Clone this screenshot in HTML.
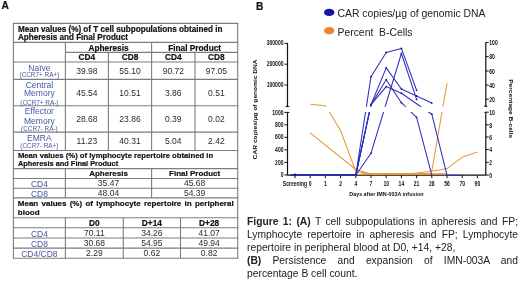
<!DOCTYPE html>
<html><head><meta charset="utf-8"><style>
html,body{margin:0;padding:0;background:#fff;}
body{width:520px;height:284px;position:relative;overflow:hidden;font-family:"Liberation Sans", sans-serif;filter:blur(0.45px);}
.t{position:absolute;white-space:nowrap;}
.l{position:absolute;}
.cap{position:absolute;font-size:10.3px;line-height:13.1px;color:#222;text-align:justify;}
.ch{position:absolute;left:0;top:0;}
.tk{font-family:"Liberation Sans", sans-serif;font-weight:bold;font-size:6.3px;fill:#111;}
.at{font-family:"Liberation Sans", sans-serif;font-weight:bold;font-size:6.6px;fill:#111;}
.lg{font-family:"Liberation Sans", sans-serif;font-size:10.4px;fill:#222;}
</style></head><body>
<div class="t" style="top:0.77px;font-size:10.2px;line-height:10.2px;color:#111;font-weight:bold;-webkit-text-stroke:0.2px currentColor;left:1.50px;">A</div><svg class="ch" width="520" height="284" viewBox="0 0 520 284"><g stroke="#7d7d7d" stroke-width="1.1"><line x1="12.85" y1="23.4" x2="238.25" y2="23.4"/><line x1="12.85" y1="42.4" x2="238.25" y2="42.4"/><line x1="12.85" y1="62.0" x2="238.25" y2="62.0"/><line x1="12.85" y1="79.4" x2="238.25" y2="79.4"/><line x1="12.85" y1="105.8" x2="238.25" y2="105.8"/><line x1="12.85" y1="132.1" x2="238.25" y2="132.1"/><line x1="12.85" y1="150.5" x2="238.25" y2="150.5"/><line x1="12.85" y1="168.6" x2="238.25" y2="168.6"/><line x1="12.85" y1="178.5" x2="238.25" y2="178.5"/><line x1="12.85" y1="188.3" x2="238.25" y2="188.3"/><line x1="12.85" y1="197.9" x2="238.25" y2="197.9"/><line x1="12.85" y1="217.8" x2="238.25" y2="217.8"/><line x1="12.85" y1="227.7" x2="238.25" y2="227.7"/><line x1="12.85" y1="238.0" x2="238.25" y2="238.0"/><line x1="12.85" y1="248.1" x2="238.25" y2="248.1"/><line x1="12.85" y1="258.3" x2="238.25" y2="258.3"/><line x1="65.4" y1="52.4" x2="237.7" y2="52.4"/><line x1="13.4" y1="23.4" x2="13.4" y2="258.3"/><line x1="237.7" y1="23.4" x2="237.7" y2="258.3"/><line x1="65.4" y1="42.4" x2="65.4" y2="150.5"/><line x1="65.4" y1="168.6" x2="65.4" y2="197.9"/><line x1="65.4" y1="217.8" x2="65.4" y2="258.3"/><line x1="108.4" y1="52.4" x2="108.4" y2="150.5"/><line x1="151.6" y1="42.4" x2="151.6" y2="150.5"/><line x1="151.6" y1="168.6" x2="151.6" y2="197.9"/><line x1="195.0" y1="52.4" x2="195.0" y2="150.5"/><line x1="123.3" y1="217.8" x2="123.3" y2="258.3"/><line x1="180.5" y1="217.8" x2="180.5" y2="258.3"/></g></svg><div class="t" style="top:25.70px;font-size:8.15px;line-height:8.15px;color:#111;font-weight:bold;-webkit-text-stroke:0.2px currentColor;left:17.90px;">Mean values (%) of T cell subpopulations obtained in</div><div class="t" style="top:34.30px;font-size:8.15px;line-height:8.15px;color:#111;font-weight:bold;-webkit-text-stroke:0.2px currentColor;left:17.90px;">Apheresis and Final Product</div><div class="t" style="top:43.97px;font-size:8.3px;line-height:8.3px;color:#111;font-weight:bold;-webkit-text-stroke:0.2px currentColor;left:68.50px;width:80.00px;text-align:center;">Apheresis</div><div class="t" style="top:43.97px;font-size:8.3px;line-height:8.3px;color:#111;font-weight:bold;-webkit-text-stroke:0.2px currentColor;left:154.65px;width:80.00px;text-align:center;">Final Product</div><div class="t" style="top:53.17px;font-size:8.3px;line-height:8.3px;color:#111;font-weight:bold;-webkit-text-stroke:0.2px currentColor;left:66.90px;width:40.00px;text-align:center;">CD4</div><div class="t" style="top:53.17px;font-size:8.3px;line-height:8.3px;color:#111;font-weight:bold;-webkit-text-stroke:0.2px currentColor;left:110.00px;width:40.00px;text-align:center;">CD8</div><div class="t" style="top:53.17px;font-size:8.3px;line-height:8.3px;color:#111;font-weight:bold;-webkit-text-stroke:0.2px currentColor;left:153.30px;width:40.00px;text-align:center;">CD4</div><div class="t" style="top:53.17px;font-size:8.3px;line-height:8.3px;color:#111;font-weight:bold;-webkit-text-stroke:0.2px currentColor;left:196.35px;width:40.00px;text-align:center;">CD8</div><div class="t" style="top:63.60px;font-size:8.5px;line-height:8.5px;color:#44569f;left:13.40px;width:52.00px;text-align:center;">Naïve</div><div class="t" style="top:72.18px;font-size:6.4px;line-height:6.4px;color:#44569f;left:13.40px;width:52.00px;text-align:center;">(CCR7+ RA+)</div><div class="t" style="top:67.00px;font-size:8.5px;line-height:8.5px;color:#2a2a2a;left:64.90px;width:44.00px;text-align:center;">39.98</div><div class="t" style="top:67.00px;font-size:8.5px;line-height:8.5px;color:#2a2a2a;left:108.00px;width:44.00px;text-align:center;">55.10</div><div class="t" style="top:67.00px;font-size:8.5px;line-height:8.5px;color:#2a2a2a;left:151.30px;width:44.00px;text-align:center;">90.72</div><div class="t" style="top:67.00px;font-size:8.5px;line-height:8.5px;color:#2a2a2a;left:194.35px;width:44.00px;text-align:center;">97.05</div><div class="t" style="top:80.80px;font-size:8.5px;line-height:8.5px;color:#44569f;left:13.40px;width:52.00px;text-align:center;">Central</div><div class="t" style="top:89.40px;font-size:8.5px;line-height:8.5px;color:#44569f;left:13.40px;width:52.00px;text-align:center;">Memory</div><div class="t" style="top:99.78px;font-size:6.4px;line-height:6.4px;color:#44569f;left:13.40px;width:52.00px;text-align:center;">(CCR7+ RA-)</div><div class="t" style="top:88.60px;font-size:8.5px;line-height:8.5px;color:#2a2a2a;left:64.90px;width:44.00px;text-align:center;">45.54</div><div class="t" style="top:88.60px;font-size:8.5px;line-height:8.5px;color:#2a2a2a;left:108.00px;width:44.00px;text-align:center;">10.51</div><div class="t" style="top:88.60px;font-size:8.5px;line-height:8.5px;color:#2a2a2a;left:151.30px;width:44.00px;text-align:center;">3.86</div><div class="t" style="top:88.60px;font-size:8.5px;line-height:8.5px;color:#2a2a2a;left:194.35px;width:44.00px;text-align:center;">0.51</div><div class="t" style="top:107.30px;font-size:8.5px;line-height:8.5px;color:#44569f;left:13.40px;width:52.00px;text-align:center;">Effector</div><div class="t" style="top:116.60px;font-size:8.5px;line-height:8.5px;color:#44569f;left:13.40px;width:52.00px;text-align:center;">Memory</div><div class="t" style="top:125.58px;font-size:6.4px;line-height:6.4px;color:#44569f;left:13.40px;width:52.00px;text-align:center;">(CCR7- RA-)</div><div class="t" style="top:115.00px;font-size:8.5px;line-height:8.5px;color:#2a2a2a;left:64.90px;width:44.00px;text-align:center;">28.68</div><div class="t" style="top:115.00px;font-size:8.5px;line-height:8.5px;color:#2a2a2a;left:108.00px;width:44.00px;text-align:center;">23.86</div><div class="t" style="top:115.00px;font-size:8.5px;line-height:8.5px;color:#2a2a2a;left:151.30px;width:44.00px;text-align:center;">0.39</div><div class="t" style="top:115.00px;font-size:8.5px;line-height:8.5px;color:#2a2a2a;left:194.35px;width:44.00px;text-align:center;">0.02</div><div class="t" style="top:134.10px;font-size:8.5px;line-height:8.5px;color:#44569f;left:13.40px;width:52.00px;text-align:center;">EMRA</div><div class="t" style="top:143.18px;font-size:6.4px;line-height:6.4px;color:#44569f;left:13.40px;width:52.00px;text-align:center;">(CCR7- RA+)</div><div class="t" style="top:136.60px;font-size:8.5px;line-height:8.5px;color:#2a2a2a;left:64.90px;width:44.00px;text-align:center;">11.23</div><div class="t" style="top:136.60px;font-size:8.5px;line-height:8.5px;color:#2a2a2a;left:108.00px;width:44.00px;text-align:center;">40.31</div><div class="t" style="top:136.60px;font-size:8.5px;line-height:8.5px;color:#2a2a2a;left:151.30px;width:44.00px;text-align:center;">5.04</div><div class="t" style="top:136.60px;font-size:8.5px;line-height:8.5px;color:#2a2a2a;left:194.35px;width:44.00px;text-align:center;">2.42</div><div class="t" style="top:151.78px;font-size:7.7px;line-height:7.7px;color:#111;font-weight:bold;-webkit-text-stroke:0.2px currentColor;left:17.90px;">Mean values (%) of lymphocyte repertoire obtained in</div><div class="t" style="top:160.44px;font-size:7.4px;line-height:7.4px;color:#111;font-weight:bold;-webkit-text-stroke:0.2px currentColor;left:17.90px;">Apheresis and Final Product</div><div class="t" style="top:169.73px;font-size:8px;line-height:8px;color:#111;font-weight:bold;-webkit-text-stroke:0.2px currentColor;left:68.50px;width:80.00px;text-align:center;">Apheresis</div><div class="t" style="top:169.73px;font-size:8px;line-height:8px;color:#111;font-weight:bold;-webkit-text-stroke:0.2px currentColor;left:154.65px;width:80.00px;text-align:center;">Final Product</div><div class="t" style="top:179.80px;font-size:8.5px;line-height:8.5px;color:#44569f;left:13.40px;width:52.00px;text-align:center;">CD4</div><div class="t" style="top:179.00px;font-size:8.5px;line-height:8.5px;color:#2a2a2a;left:68.50px;width:80.00px;text-align:center;">35.47</div><div class="t" style="top:179.00px;font-size:8.5px;line-height:8.5px;color:#2a2a2a;left:154.65px;width:80.00px;text-align:center;">45.68</div><div class="t" style="top:189.70px;font-size:8.5px;line-height:8.5px;color:#44569f;left:13.40px;width:52.00px;text-align:center;">CD8</div><div class="t" style="top:188.90px;font-size:8.5px;line-height:8.5px;color:#2a2a2a;left:68.50px;width:80.00px;text-align:center;">48.04</div><div class="t" style="top:188.90px;font-size:8.5px;line-height:8.5px;color:#2a2a2a;left:154.65px;width:80.00px;text-align:center;">54.39</div><div class="t" style="top:199.73px;font-size:8px;line-height:8px;color:#111;font-weight:bold;-webkit-text-stroke:0.2px currentColor;left:17.80px;word-spacing:1.05px;">Mean values (%) of lymphocyte repertoire in peripheral</div><div class="t" style="top:209.03px;font-size:8px;line-height:8px;color:#111;font-weight:bold;-webkit-text-stroke:0.2px currentColor;left:17.80px;">blood</div><div class="t" style="top:219.37px;font-size:8.3px;line-height:8.3px;color:#111;font-weight:bold;-webkit-text-stroke:0.2px currentColor;left:64.35px;width:60.00px;text-align:center;">D0</div><div class="t" style="top:219.37px;font-size:8.3px;line-height:8.3px;color:#111;font-weight:bold;-webkit-text-stroke:0.2px currentColor;left:121.90px;width:60.00px;text-align:center;">D+14</div><div class="t" style="top:219.37px;font-size:8.3px;line-height:8.3px;color:#111;font-weight:bold;-webkit-text-stroke:0.2px currentColor;left:179.10px;width:60.00px;text-align:center;">D+28</div><div class="t" style="top:229.60px;font-size:8.5px;line-height:8.5px;color:#44569f;left:13.40px;width:52.00px;text-align:center;">CD4</div><div class="t" style="top:228.90px;font-size:8.5px;line-height:8.5px;color:#2a2a2a;left:64.35px;width:60.00px;text-align:center;">70.11</div><div class="t" style="top:228.90px;font-size:8.5px;line-height:8.5px;color:#2a2a2a;left:121.90px;width:60.00px;text-align:center;">34.26</div><div class="t" style="top:228.90px;font-size:8.5px;line-height:8.5px;color:#2a2a2a;left:179.10px;width:60.00px;text-align:center;">41.07</div><div class="t" style="top:239.70px;font-size:8.5px;line-height:8.5px;color:#44569f;left:13.40px;width:52.00px;text-align:center;">CD8</div><div class="t" style="top:239.00px;font-size:8.5px;line-height:8.5px;color:#2a2a2a;left:64.35px;width:60.00px;text-align:center;">30.68</div><div class="t" style="top:239.00px;font-size:8.5px;line-height:8.5px;color:#2a2a2a;left:121.90px;width:60.00px;text-align:center;">54.95</div><div class="t" style="top:239.00px;font-size:8.5px;line-height:8.5px;color:#2a2a2a;left:179.10px;width:60.00px;text-align:center;">49.94</div><div class="t" style="top:249.70px;font-size:8.5px;line-height:8.5px;color:#44569f;left:13.40px;width:52.00px;text-align:center;">CD4/CD8</div><div class="t" style="top:249.00px;font-size:8.5px;line-height:8.5px;color:#2a2a2a;left:64.35px;width:60.00px;text-align:center;">2.29</div><div class="t" style="top:249.00px;font-size:8.5px;line-height:8.5px;color:#2a2a2a;left:121.90px;width:60.00px;text-align:center;">0.62</div><div class="t" style="top:249.00px;font-size:8.5px;line-height:8.5px;color:#2a2a2a;left:179.10px;width:60.00px;text-align:center;">0.82</div><div class="cap" style="left:247px;top:214.9px;width:271px;"><b>Figure 1:</b> <b>(A)</b> T cell subpopulations in apheresis and FP; Lymphocyte repertoire in apheresis and FP; Lymphocyte repertoire in peripheral blood at D0, +14, +28,<br><b>(B)</b> Persistence and expansion of IMN-003A and percentage B cell count.</div><div class="t" style="top:1.57px;font-size:10.2px;line-height:10.2px;color:#111;font-weight:bold;-webkit-text-stroke:0.2px currentColor;left:256.00px;">B</div><svg class="ch" width="520" height="284" viewBox="0 0 520 284"><line x1="287.5" y1="43" x2="287.5" y2="106.5" stroke="#111" stroke-width="1.2"/><line x1="287.5" y1="112.3" x2="287.5" y2="175.2" stroke="#111" stroke-width="1.2"/><line x1="285.7" y1="106.5" x2="289.3" y2="106.5" stroke="#111" stroke-width="1.2"/><line x1="287.5" y1="112.4" x2="289.3" y2="112.4" stroke="#111" stroke-width="1.1"/><line x1="485.8" y1="42.3" x2="485.8" y2="106.3" stroke="#111" stroke-width="1.2"/><line x1="485.8" y1="112.2" x2="485.8" y2="175.2" stroke="#111" stroke-width="1.2"/><line x1="484.3" y1="106.3" x2="487.3" y2="106.3" stroke="#111" stroke-width="1.2"/><line x1="484.2" y1="112.2" x2="485.8" y2="112.2" stroke="#111" stroke-width="1.1"/><line x1="287.5" y1="175.2" x2="485.8" y2="175.2" stroke="#111" stroke-width="1.2"/><line x1="284.5" y1="43.3" x2="287.5" y2="43.3" stroke="#111" stroke-width="1"/><text x="283.5" y="45.5" text-anchor="end" class="tk" transform="translate(283.5 0) scale(0.8 1) translate(-283.5 0)">300000</text><line x1="284.5" y1="64.2" x2="287.5" y2="64.2" stroke="#111" stroke-width="1"/><text x="283.5" y="66.4" text-anchor="end" class="tk" transform="translate(283.5 0) scale(0.8 1) translate(-283.5 0)">200000</text><line x1="284.5" y1="85.0" x2="287.5" y2="85.0" stroke="#111" stroke-width="1"/><text x="283.5" y="87.2" text-anchor="end" class="tk" transform="translate(283.5 0) scale(0.8 1) translate(-283.5 0)">100000</text><line x1="284.5" y1="112.4" x2="287.5" y2="112.4" stroke="#111" stroke-width="1"/><text x="283.5" y="114.60000000000001" text-anchor="end" class="tk" transform="translate(283.5 0) scale(0.8 1) translate(-283.5 0)">1000</text><line x1="284.5" y1="124.8" x2="287.5" y2="124.8" stroke="#111" stroke-width="1"/><text x="283.5" y="127.0" text-anchor="end" class="tk" transform="translate(283.5 0) scale(0.8 1) translate(-283.5 0)">800</text><line x1="284.5" y1="137.3" x2="287.5" y2="137.3" stroke="#111" stroke-width="1"/><text x="283.5" y="139.5" text-anchor="end" class="tk" transform="translate(283.5 0) scale(0.8 1) translate(-283.5 0)">600</text><line x1="284.5" y1="149.8" x2="287.5" y2="149.8" stroke="#111" stroke-width="1"/><text x="283.5" y="152.0" text-anchor="end" class="tk" transform="translate(283.5 0) scale(0.8 1) translate(-283.5 0)">400</text><line x1="284.5" y1="162.4" x2="287.5" y2="162.4" stroke="#111" stroke-width="1"/><text x="283.5" y="164.6" text-anchor="end" class="tk" transform="translate(283.5 0) scale(0.8 1) translate(-283.5 0)">200</text><line x1="284.5" y1="175.0" x2="287.5" y2="175.0" stroke="#111" stroke-width="1"/><text x="283.5" y="177.2" text-anchor="end" class="tk" transform="translate(283.5 0) scale(0.8 1) translate(-283.5 0)">0</text><line x1="485.8" y1="42.4" x2="488.8" y2="42.4" stroke="#111" stroke-width="1"/><text x="489.3" y="45.199999999999996" class="tk" transform="translate(489.3 0) scale(0.8 1) translate(-489.3 0)">100</text><line x1="485.8" y1="56.7" x2="488.8" y2="56.7" stroke="#111" stroke-width="1"/><text x="489.3" y="59.5" class="tk" transform="translate(489.3 0) scale(0.8 1) translate(-489.3 0)">80</text><line x1="485.8" y1="71.0" x2="488.8" y2="71.0" stroke="#111" stroke-width="1"/><text x="489.3" y="73.8" class="tk" transform="translate(489.3 0) scale(0.8 1) translate(-489.3 0)">60</text><line x1="485.8" y1="85.1" x2="488.8" y2="85.1" stroke="#111" stroke-width="1"/><text x="489.3" y="87.89999999999999" class="tk" transform="translate(489.3 0) scale(0.8 1) translate(-489.3 0)">40</text><line x1="485.8" y1="99.2" x2="488.8" y2="99.2" stroke="#111" stroke-width="1"/><text x="489.3" y="102.0" class="tk" transform="translate(489.3 0) scale(0.8 1) translate(-489.3 0)">20</text><line x1="485.8" y1="112.2" x2="488.8" y2="112.2" stroke="#111" stroke-width="1"/><text x="489.3" y="115.0" class="tk" transform="translate(489.3 0) scale(0.8 1) translate(-489.3 0)">10</text><line x1="485.8" y1="124.8" x2="488.8" y2="124.8" stroke="#111" stroke-width="1"/><text x="489.3" y="127.6" class="tk" transform="translate(489.3 0) scale(0.8 1) translate(-489.3 0)">8</text><line x1="485.8" y1="137.0" x2="488.8" y2="137.0" stroke="#111" stroke-width="1"/><text x="489.3" y="139.8" class="tk" transform="translate(489.3 0) scale(0.8 1) translate(-489.3 0)">6</text><line x1="485.8" y1="149.5" x2="488.8" y2="149.5" stroke="#111" stroke-width="1"/><text x="489.3" y="152.3" class="tk" transform="translate(489.3 0) scale(0.8 1) translate(-489.3 0)">4</text><line x1="485.8" y1="162.3" x2="488.8" y2="162.3" stroke="#111" stroke-width="1"/><text x="489.3" y="165.10000000000002" class="tk" transform="translate(489.3 0) scale(0.8 1) translate(-489.3 0)">2</text><line x1="485.8" y1="175.0" x2="488.8" y2="175.0" stroke="#111" stroke-width="1"/><text x="489.3" y="177.8" class="tk" transform="translate(489.3 0) scale(0.8 1) translate(-489.3 0)">0</text><line x1="295.0" y1="175.2" x2="295.0" y2="178.2" stroke="#111" stroke-width="1"/><text x="295.0" y="186.2" text-anchor="middle" class="tk" transform="translate(295.0 0) scale(0.8 1) translate(-295.0 0)">Screening</text><line x1="310.2" y1="175.2" x2="310.2" y2="178.2" stroke="#111" stroke-width="1"/><text x="310.2" y="186.2" text-anchor="middle" class="tk" transform="translate(310.2 0) scale(0.8 1) translate(-310.2 0)">0</text><line x1="325.4" y1="175.2" x2="325.4" y2="178.2" stroke="#111" stroke-width="1"/><text x="325.4" y="186.2" text-anchor="middle" class="tk" transform="translate(325.4 0) scale(0.8 1) translate(-325.4 0)">1</text><line x1="340.6" y1="175.2" x2="340.6" y2="178.2" stroke="#111" stroke-width="1"/><text x="340.6" y="186.2" text-anchor="middle" class="tk" transform="translate(340.6 0) scale(0.8 1) translate(-340.6 0)">2</text><line x1="355.8" y1="175.2" x2="355.8" y2="178.2" stroke="#111" stroke-width="1"/><text x="355.8" y="186.2" text-anchor="middle" class="tk" transform="translate(355.8 0) scale(0.8 1) translate(-355.8 0)">4</text><line x1="371.0" y1="175.2" x2="371.0" y2="178.2" stroke="#111" stroke-width="1"/><text x="371.0" y="186.2" text-anchor="middle" class="tk" transform="translate(371.0 0) scale(0.8 1) translate(-371.0 0)">7</text><line x1="386.2" y1="175.2" x2="386.2" y2="178.2" stroke="#111" stroke-width="1"/><text x="386.2" y="186.2" text-anchor="middle" class="tk" transform="translate(386.2 0) scale(0.8 1) translate(-386.2 0)">10</text><line x1="401.4" y1="175.2" x2="401.4" y2="178.2" stroke="#111" stroke-width="1"/><text x="401.4" y="186.2" text-anchor="middle" class="tk" transform="translate(401.4 0) scale(0.8 1) translate(-401.4 0)">14</text><line x1="416.6" y1="175.2" x2="416.6" y2="178.2" stroke="#111" stroke-width="1"/><text x="416.6" y="186.2" text-anchor="middle" class="tk" transform="translate(416.6 0) scale(0.8 1) translate(-416.6 0)">21</text><line x1="431.8" y1="175.2" x2="431.8" y2="178.2" stroke="#111" stroke-width="1"/><text x="431.8" y="186.2" text-anchor="middle" class="tk" transform="translate(431.8 0) scale(0.8 1) translate(-431.8 0)">28</text><line x1="447.0" y1="175.2" x2="447.0" y2="178.2" stroke="#111" stroke-width="1"/><text x="447.0" y="186.2" text-anchor="middle" class="tk" transform="translate(447.0 0) scale(0.8 1) translate(-447.0 0)">56</text><line x1="462.2" y1="175.2" x2="462.2" y2="178.2" stroke="#111" stroke-width="1"/><text x="462.2" y="186.2" text-anchor="middle" class="tk" transform="translate(462.2 0) scale(0.8 1) translate(-462.2 0)">70</text><line x1="477.4" y1="175.2" x2="477.4" y2="178.2" stroke="#111" stroke-width="1"/><text x="477.4" y="186.2" text-anchor="middle" class="tk" transform="translate(477.4 0) scale(0.8 1) translate(-477.4 0)">90</text><text x="386.4" y="195.9" text-anchor="middle" class="tk" style="font-size:6.2px" transform="translate(386.4 0) scale(0.87 1) translate(-386.4 0)">Days after IMN-003A infusion</text><text x="0" y="0" text-anchor="middle" class="at" transform="translate(256.7 109.3) rotate(-90) scale(1 0.8)">CAR copies/µg of genomic DNA</text><text x="0" y="0" text-anchor="middle" class="at" transform="translate(509.0 108.7) rotate(90) scale(1 0.8)">Percentage B-cells</text><polyline points="310.2,104.3 325.4,105.8 340.6,130.5 355.8,171.5 371.0,173.9 416.6,173.9 431.8,174.0" fill="none" stroke="#e5993f" stroke-width="1.05" stroke-linejoin="round"/><polyline points="310.2,132.8 355.8,169.5 371.0,173.9 431.8,174.0" fill="none" stroke="#e5993f" stroke-width="1.05" stroke-linejoin="round"/><polyline points="355.8,174.4 371.0,173.9 401.4,173.9 416.6,173.0 431.8,171.2 447.0,168.6 462.2,157.3 477.4,152.1" fill="none" stroke="#e5993f" stroke-width="1.05" stroke-linejoin="round"/><polyline points="431.8,171.2 447.0,83.2" fill="none" stroke="#e5993f" stroke-width="1.05" stroke-linejoin="round"/><polyline points="361.8,173.9 447.0,173.9" fill="none" stroke="#ee9535" stroke-width="1.3" stroke-linejoin="round"/><polyline points="290.5,174.9 355.8,174.9" fill="none" stroke="#2a2ab8" stroke-width="1.6" stroke-linejoin="round"/><circle cx="295.0" cy="174.89999999999998" r="1.3" fill="#1c1c90"/><polyline points="355.8,175.2 371.0,76.7 386.2,52.5 401.4,48.4 416.6,90.3" fill="none" stroke="#2e2ebf" stroke-width="1.05" stroke-linejoin="round"/><circle cx="371.0" cy="76.7" r="0.9" fill="#1c1c90"/><circle cx="386.2" cy="52.5" r="0.9" fill="#1c1c90"/><circle cx="401.4" cy="48.4" r="0.9" fill="#1c1c90"/><circle cx="416.6" cy="90.3" r="0.9" fill="#1c1c90"/><polyline points="355.8,175.2 371.0,104.7 386.2,67.9 401.4,89.0 416.6,96.0 431.8,103.1" fill="none" stroke="#2e2ebf" stroke-width="1.05" stroke-linejoin="round"/><circle cx="371.0" cy="104.7" r="0.9" fill="#1c1c90"/><circle cx="386.2" cy="67.9" r="0.9" fill="#1c1c90"/><circle cx="401.4" cy="89.0" r="0.9" fill="#1c1c90"/><circle cx="416.6" cy="96.0" r="0.9" fill="#1c1c90"/><circle cx="431.8" cy="103.1" r="0.9" fill="#1c1c90"/><polyline points="355.8,175.2 371.0,104.7 386.2,79.7 401.4,102.7 416.6,117.3 431.8,175.2" fill="none" stroke="#2e2ebf" stroke-width="1.05" stroke-linejoin="round"/><circle cx="371.0" cy="104.7" r="0.9" fill="#1c1c90"/><circle cx="386.2" cy="79.7" r="0.9" fill="#1c1c90"/><circle cx="401.4" cy="102.7" r="0.9" fill="#1c1c90"/><circle cx="416.6" cy="117.3" r="0.9" fill="#1c1c90"/><polyline points="355.8,175.2 371.0,104.7 386.2,86.6 401.4,93.2 431.8,114.2 447.0,175.2 462.2,175.2" fill="none" stroke="#2e2ebf" stroke-width="1.05" stroke-linejoin="round"/><circle cx="371.0" cy="104.7" r="0.9" fill="#1c1c90"/><circle cx="386.2" cy="86.6" r="0.9" fill="#1c1c90"/><circle cx="401.4" cy="93.2" r="0.9" fill="#1c1c90"/><circle cx="431.8" cy="114.2" r="0.9" fill="#1c1c90"/><polyline points="355.8,175.2 371.0,153.2 401.4,53.5 416.6,99.4" fill="none" stroke="#2e2ebf" stroke-width="1.05" stroke-linejoin="round"/><circle cx="371.0" cy="153.2" r="0.9" fill="#1c1c90"/><circle cx="401.4" cy="53.5" r="0.9" fill="#1c1c90"/><circle cx="416.6" cy="99.4" r="0.9" fill="#1c1c90"/><rect x="288.5" y="106.8" width="196.3" height="5.2" fill="#fff"/><ellipse cx="329.2" cy="12.4" rx="5.2" ry="3.7" fill="#1414a8"/><ellipse cx="329.2" cy="30.6" rx="5.2" ry="3.7" fill="#ee8535"/><text x="337.5" y="16.8" class="lg">CAR copies/µg of genomic DNA</text><text x="337.5" y="35.6" class="lg" xml:space="preserve">Percent  B-Cells</text></svg>
</body></html>
